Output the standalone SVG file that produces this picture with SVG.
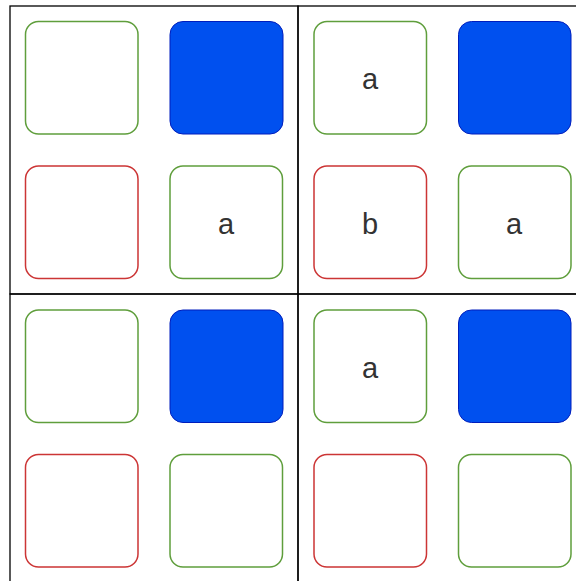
<svg xmlns="http://www.w3.org/2000/svg" width="576" height="581" viewBox="0 0 576 581">
<style>
.cell{fill:none;stroke:#000;stroke-width:1.3}
.g{fill:#fff;stroke:#5f9e3c;stroke-width:1.5}
.r{fill:#fff;stroke:#cc3535;stroke-width:1.5}
.b{fill:#0050ef;stroke:#001dbc;stroke-width:1}
text{font-family:"Liberation Sans",Arial,sans-serif;font-size:29px;fill:#333;text-anchor:middle;dominant-baseline:central}
</style>
<rect width="576" height="581" fill="#fff"/>
<g id="grid">
<rect class="cell" x="10" y="6" width="288" height="288"/>
<rect class="cell" x="298" y="6" width="288" height="288"/>
<rect class="cell" x="10" y="294" width="288" height="288"/>
<rect class="cell" x="298" y="294" width="288" height="288"/>
</g>
<g id="c1">
<g id="c1n1"><rect class="g" x="25.5" y="21.5" width="112.5" height="112.5" rx="13"/></g>
<g id="c1n2"><rect class="b" x="170" y="21.5" width="113" height="112.5" rx="13"/></g>
<g id="c1n3"><rect class="r" x="25.5" y="166" width="112.5" height="112.5" rx="13"/></g>
<g id="c1n4"><rect class="g" x="170" y="166" width="112.5" height="112.5" rx="13"/><text x="226" y="223.5">a</text></g>
</g>
<g id="c2">
<g id="c2n1"><rect class="g" x="314" y="21.5" width="112.5" height="112.5" rx="13"/><text x="370" y="79">a</text></g>
<g id="c2n2"><rect class="b" x="458.5" y="21.5" width="112.5" height="112.5" rx="13"/></g>
<g id="c2n3"><rect class="r" x="314" y="166" width="112.5" height="112.5" rx="13"/><text x="370" y="223.5">b</text></g>
<g id="c2n4"><rect class="g" x="458.5" y="166" width="112.5" height="112.5" rx="13"/><text x="514" y="223.5">a</text></g>
</g>
<g id="c3">
<g id="c3n1"><rect class="g" x="25.5" y="310" width="112.5" height="112.5" rx="13"/></g>
<g id="c3n2"><rect class="b" x="170" y="310" width="113" height="112.5" rx="13"/></g>
<g id="c3n3"><rect class="r" x="25.5" y="454.5" width="112.5" height="112.5" rx="13"/></g>
<g id="c3n4"><rect class="g" x="170" y="454.5" width="112.5" height="112.5" rx="13"/></g>
</g>
<g id="c4">
<g id="c4n1"><rect class="g" x="314" y="310" width="112.5" height="112.5" rx="13"/><text x="370" y="367.5">a</text></g>
<g id="c4n2"><rect class="b" x="458.5" y="310" width="112.5" height="112.5" rx="13"/></g>
<g id="c4n3"><rect class="r" x="314" y="454.5" width="112.5" height="112.5" rx="13"/></g>
<g id="c4n4"><rect class="g" x="458.5" y="454.5" width="112.5" height="112.5" rx="13"/></g>
</g>
</svg>
